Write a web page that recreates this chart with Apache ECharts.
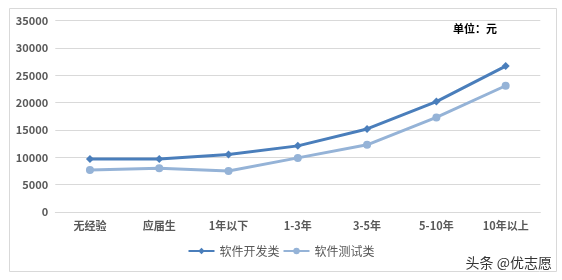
<!DOCTYPE html>
<html>
<head>
<meta charset="utf-8">
<script src="https://cdn.jsdelivr.net/npm/echarts@6/dist/echarts.min.js"></script>
<style>
html,body{margin:0;padding:0;background:#fff;}
#c{width:562px;height:280px;}
</style>
</head>
<body>
<div id="c"></div>
<script>
const categories = ['无经验','应届生','1年以下','1-3年','3-5年','5-10年','10年以上'];
const devValues = [9700, 9700, 10500, 12100, 15200, 20200, 26700];
const testValues = [7700, 8000, 7500, 9900, 12300, 17300, 23100];
const seriesNames = ['软件开发类','软件测试类'];
const yTicks = {min: 0, max: 35000, interval: 5000};

const chart = echarts.init(document.getElementById('c'), null, {renderer: 'canvas'});
const labelFont = {fontFamily: '"Noto Sans CJK SC", "Noto Sans", sans-serif', fontWeight: 'bold', fontSize: 11, color: '#595959'};
chart.setOption({
  animation: false,
  backgroundColor: '#fff',
  grid: {left: 55.3, right: 21.7, top: 20.7, bottom: 68, containLabel: false},
  legend: {
    data: seriesNames,
    bottom: 18,
    left: 'center',
    itemWidth: 26,
    itemHeight: 8,
    itemGap: 3,
    textStyle: {fontFamily: '"Noto Sans CJK SC", sans-serif', fontSize: 12, color: '#595959'}
  },
  xAxis: {
    type: 'category',
    data: categories,
    boundaryGap: true,
    axisLine: {lineStyle: {color: '#d9d9d9', width: 1}},
    axisTick: {show: false},
    axisLabel: Object.assign({margin: 8, interval: 0}, labelFont)
  },
  yAxis: {
    type: 'value',
    min: yTicks.min, max: yTicks.max, interval: yTicks.interval,
    axisLine: {show: false},
    axisTick: {show: false},
    splitLine: {lineStyle: {color: '#d9d9d9', width: 1}},
    axisLabel: Object.assign({margin: 7, formatter: v => String(v)}, labelFont)
  },
  graphic: [
    {type: 'rect', left: 7, top: 6, shape: {width: 547, height: 263}, style: {fill: 'none', stroke: '#d9d9d9', lineWidth: 1}, z: -1},
    {type: 'text', left: 453, top: 23, style: {text: '单位：元', font: 'bold 11px "Noto Sans CJK SC", sans-serif', fill: '#000'}},
    {type: 'text', right: 9, top: 255, style: {text: '头条 @优志愿', font: '14px "Noto Sans CJK SC", sans-serif', fill: '#333', stroke: '#fff', lineWidth: 2}}
  ],
  series: [
    {
      name: seriesNames[0], type: 'line', data: devValues,
      symbol: 'diamond', symbolSize: 8,
      lineStyle: {color: '#4a7ebb', width: 3},
      itemStyle: {color: '#4a7ebb'}
    },
    {
      name: seriesNames[1], type: 'line', data: testValues,
      symbol: 'circle', symbolSize: 8,
      lineStyle: {color: '#95b3d7', width: 3},
      itemStyle: {color: '#95b3d7'}
    }
  ]
});
</script>
</body>
</html>
